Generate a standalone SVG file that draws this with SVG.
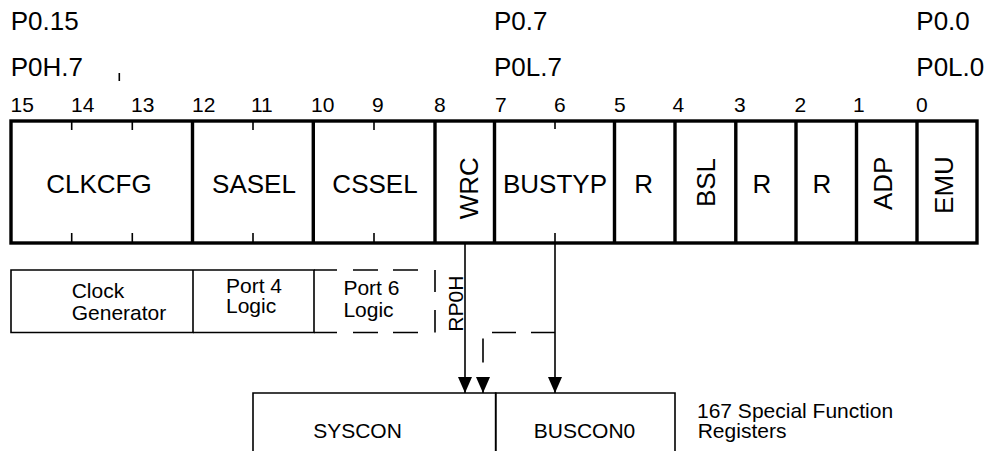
<svg xmlns="http://www.w3.org/2000/svg" width="987" height="451" viewBox="0 0 987 451">
<defs>
<style>
text{font-family:"Liberation Sans",Arial,Helvetica,sans-serif;fill:#000}
.big{font-size:26px}
.sm{font-size:21px}
.mid{text-anchor:middle}
.thick{stroke:#000;stroke-width:3.4;fill:none}
.tick{stroke:#000;stroke-width:1.6;fill:none}
.thin{stroke:#000;stroke-width:1.6;fill:none}
.conn{stroke:#000;stroke-width:1.6;fill:none}
.dash{stroke-dasharray:24 15}
</style>
<marker id="arr" markerUnits="userSpaceOnUse" markerWidth="16" markerHeight="14" refX="16" refY="7" orient="auto">
<path d="M0,0 L16,7 L0,14 z" fill="#000"/>
</marker>
</defs>
<rect width="987" height="451" fill="#fff"/>

<g id="pin-labels">
<text class="big" x="10.7" y="30">P0.15</text>
<text class="big" x="10.7" y="76">P0H.7</text>
<line class="tick" x1="119.3" y1="73" x2="119.3" y2="81"/>
<text class="big" x="494" y="30">P0.7</text>
<text class="big" x="494" y="76">P0L.7</text>
<text class="big" x="916.3" y="30">P0.0</text>
<text class="big" x="916.3" y="76">P0L.0</text>
</g>

<g id="bit-numbers" class="sm">
<text class="sm" x="10.5" y="111.5">15</text>
<text class="sm" x="71" y="111.5">14</text>
<text class="sm" x="131" y="111.5">13</text>
<text class="sm" x="192" y="111.5">12</text>
<text class="sm" x="251" y="111.5">11</text>
<text class="sm" x="311" y="111.5">10</text>
<text class="sm" x="372" y="111.5">9</text>
<text class="sm" x="434" y="111.5">8</text>
<text class="sm" x="495" y="111.5">7</text>
<text class="sm" x="554" y="111.5">6</text>
<text class="sm" x="614" y="111.5">5</text>
<text class="sm" x="672.5" y="111.5">4</text>
<text class="sm" x="734" y="111.5">3</text>
<text class="sm" x="794.5" y="111.5">2</text>
<text class="sm" x="853" y="111.5">1</text>
<text class="sm" x="916" y="111.5">0</text>
</g>

<g id="register">
<rect class="thick" x="11" y="121" width="966" height="122"/>
<path class="thick" d="M192.5,121V243 M313.3,121V243 M435,121V243 M494.5,121V243 M614.5,121V243 M675,121V243 M735.8,121V243 M796,121V243 M856.5,121V243 M917,121V243"/>
<path class="tick" d="M71.7,121V130 M132.3,121V130 M253,121V130 M374,121V130 M555,121V129 M71.7,233V243 M132.3,233V243 M253,233V243 M374,233V243 M555,233V243"/>
<text class="big mid" x="99" y="193">CLKCFG</text>
<text class="big mid" x="254" y="193">SASEL</text>
<text class="big mid" x="375" y="193">CSSEL</text>
<text class="big mid" transform="translate(478.3,188.3) rotate(-90)">WRC</text>
<text class="big mid" x="555" y="193">BUSTYP</text>
<text class="big mid" x="643.7" y="193">R</text>
<text class="big mid" transform="translate(715,182.5) rotate(-90)">BSL</text>
<text class="big mid" x="762" y="193">R</text>
<text class="big mid" x="822" y="193">R</text>
<text class="big mid" transform="translate(891.7,183.3) rotate(-90)">ADP</text>
<text class="big mid" transform="translate(953.3,185) rotate(-90)">EMU</text>
</g>

<g id="clock-generator">
<path class="thin" d="M193,270H11V332.5H193V270"/>
<text class="sm" x="71.7" y="298.3">Clock</text>
<text class="sm" x="71.7" y="320">Generator</text>
</g>

<g id="port4-logic">
<path class="thin" d="M193,270H314V332.5H193"/>
<text class="sm" x="226" y="293.3">Port 4</text>
<text class="sm" x="226" y="313.3">Logic</text>
</g>

<g id="port6-logic">
<path class="thin" d="M314,270H337 M314,332.5H337 M353,270H378 M393,270H418 M353,332.5H378 M393,332.5H418 M435,270V292 M435,310V332.5"/>
<text class="sm" x="343.4" y="295.3">Port 6</text>
<text class="sm" x="343.4" y="316.5">Logic</text>
</g>

<g id="rp0h">
<text class="sm mid" transform="translate(463,303.7) rotate(-90)">RP0H</text>
</g>

<g id="syscon">
<path class="thin" d="M253,452V393H495.7V452"/>
<text class="sm mid" x="357.5" y="438.3">SYSCON</text>
</g>

<g id="buscon0">
<path class="thin" d="M495.7,452V393H675V452"/>
<text class="sm mid" x="584.5" y="438">BUSCON0</text>
</g>

<g id="sfr-label">
<text class="sm" x="697" y="418.3">167 Special Function</text>
<text class="sm" x="697.7" y="438.3">Registers</text>
</g>

<g id="connectors">
<path class="conn" d="M465,244V393" marker-end="url(#arr)"/>
<path class="conn" d="M555,244V393" marker-end="url(#arr)"/>
<path class="conn dash" d="M555,332.5H483V393" marker-end="url(#arr)"/>
</g>
</svg>
